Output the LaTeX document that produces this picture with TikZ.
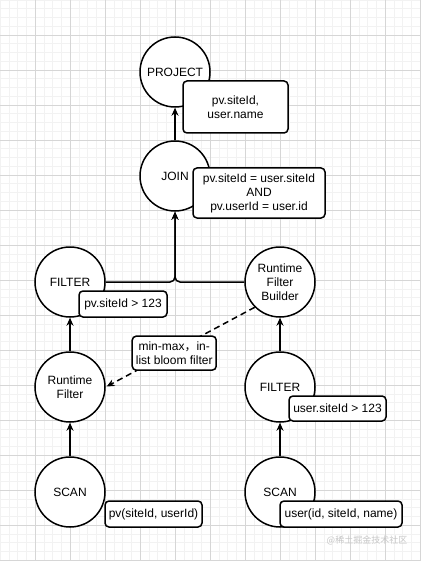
\documentclass[tikz,border=0pt]{standalone}
\usepackage{fontspec}
\setmainfont{Liberation Sans}
\newfontfamily\cjk{Noto Sans CJK SC}
\usetikzlibrary{arrows.meta}
\tikzset{
    >={Stealth[length=8pt,width=7pt]},
    every edge/.style={draw,->,line width=1.5pt}
}

\begin{document}
\begin{tikzpicture}[x=1pt,y=-1pt,
                    font=\fontsize{12}{14}\selectfont,
                    op/.style={circle,draw,line width=1.5pt,fill=white,
                               minimum size=70pt,inner sep=0pt,align=center},
                    note/.style={draw,solid,line width=1.5pt,fill=white,rounded corners=4pt,
                                 inner sep=0pt,align=center},
                    hint/.style={dash pattern=on 6pt off 4pt,shorten >=1pt}]

% Grid
\useasboundingbox (0,0) rectangle (421,561);
\fill[white] (0,0) rectangle (421,561);
\foreach \i in {0,...,48} {
  \draw[black!5,line width=0.5pt] (\i*8.75,0) -- (\i*8.75,561);
}
\foreach \j in {0,...,64} {
  \draw[black!5,line width=0.5pt] (0,\j*8.75) -- (421,\j*8.75);
}
\foreach \i in {1,...,12} {
  \draw[black!16,line width=0.6pt] (\i*35,0) -- (\i*35,561);
}
\foreach \j in {1,...,16} {
  \draw[black!16,line width=0.6pt] (0,\j*35) -- (421,\j*35);
}

% Operators
\node[op] (proj) at (175,72) {PROJECT};
\node[op] (join) at (175,176) {JOIN};
\node[op] (filterPv) at (70,282) {FILTER};
\node[op] (rfBuilder) at (280,282) {Runtime\\Filter\\Builder};
\node[op] (rtFilter) at (70,387) {Runtime\\Filter};
\node[op] (filterUser) at (280,387) {FILTER};
\node[op] (scanPv) at (70,492) {SCAN};
\node[op] (scanUser) at (280,492) {SCAN};

% Predicates
\node[note,minimum width=105pt,minimum height=52pt] (projCols) at (235.5,107) {pv.siteId,\\user.name};
\node[note,minimum width=132pt,minimum height=50pt] (joinCond) at (259,193) {pv.siteId = user.siteId\\AND\\pv.userId = user.id};
\node[note,minimum width=88pt,minimum height=26pt] (pvCond) at (123,304) {pv.siteId > 123};
\node[note,minimum width=97pt,minimum height=25pt] (userCond) at (337.5,408.5) {user.siteId > 123};
\node[note,minimum width=97pt,minimum height=26pt] (pvTable) at (153.5,514) {pv(siteId, userId)};
\node[note,minimum width=122pt,minimum height=26pt] (userTable) at (341,514) {user(id, siteId, name)};

% Transitions
\path (scanPv) edge (rtFilter);
\path (rtFilter) edge (filterPv);
\path (scanUser) edge (filterUser);
\path (filterUser) edge (rfBuilder);
\path (join) edge (proj);
\draw[->,line width=1.5pt,rounded corners=5pt] (filterPv) -| (join);
\draw[->,line width=1.5pt,rounded corners=5pt] (rfBuilder) -| (join);
\path (rfBuilder.225) edge[hint]
  node[note,minimum width=84pt,minimum height=34pt,xshift=-6pt,yshift=-6pt] (rfLabel)
  {min-max{\cjk ，}in-\\list bloom filter} (rtFilter.east);

% Watermark
\node[text=black!22,font=\cjk\fontsize{9}{10}\selectfont] (mark) at (367,540) {@稀土掘金技术社区};

\end{tikzpicture}
\end{document}
